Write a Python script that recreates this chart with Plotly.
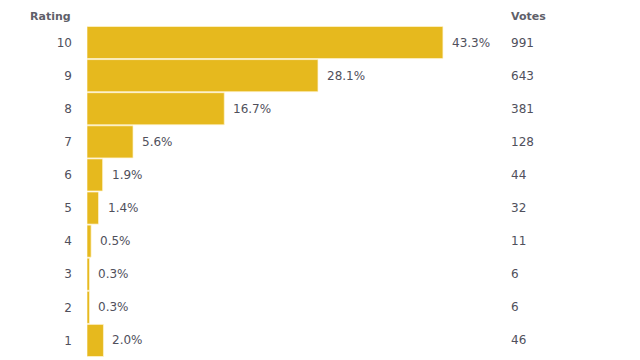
import plotly.graph_objects as go

ratings = ["10", "9", "8", "7", "6", "5", "4", "3", "2", "1"]
percents = [43.3, 28.1, 16.7, 5.6, 1.9, 1.4, 0.5, 0.3, 0.3, 2.0]
votes = [991, 643, 381, 128, 44, 32, 11, 6, 6, 46]

FONT = "DejaVu Sans, Verdana, sans-serif"
TXT = "#50505c"

order = ratings[::-1]  # bottom to top

fig = go.Figure()
fig.add_trace(go.Bar(
    y=ratings, x=percents, orientation="h",
    marker=dict(color="#E6B91E", line=dict(color="rgba(255,245,210,0.7)", width=1)),
    hoverinfo="skip",
))

ann = []
for r, p, v in zip(ratings, percents, votes):
    idx = order.index(r)
    ann.append(dict(x=p, y=idx, xref="x", yref="y", text=f"{p:.1f}%", showarrow=False,
                    xanchor="left", xshift=7, font=dict(family=FONT, size=12, color=TXT)))
    ann.append(dict(x=1.021, y=idx, xref="paper", yref="y", text=str(v), showarrow=False,
                    xanchor="left", font=dict(family=FONT, size=12, color=TXT)))
ann.append(dict(x=-14/413, y=1.0, xref="paper", yref="paper", text="<b>Rating</b>", showarrow=False,
                xanchor="right", yanchor="bottom", yshift=1, font=dict(family=FONT, size=11, color="#5f5f6a")))
ann.append(dict(x=1.021, y=1.0, xref="paper", yref="paper", text="<b>Votes</b>", showarrow=False,
                xanchor="left", yanchor="bottom", yshift=1, font=dict(family=FONT, size=11, color="#5f5f6a")))

fig.update_layout(
    width=632, height=352,
    margin=dict(l=79, r=140, t=18, b=3, autoexpand=False),
    paper_bgcolor="white", plot_bgcolor="white",
    bargap=0.03, showlegend=False,
    annotations=ann,
    xaxis=dict(range=[0, 413 / 8.22], visible=False, fixedrange=True),
    yaxis=dict(type="category", categoryorder="array", categoryarray=order,
               range=[-0.5, len(order) - 0.5], showgrid=False,
               showline=False, zeroline=False, ticks="", ticklabelstandoff=14,
               tickfont=dict(family=FONT, size=12, color=TXT), fixedrange=True),
)

fig.write_html("out.html")
